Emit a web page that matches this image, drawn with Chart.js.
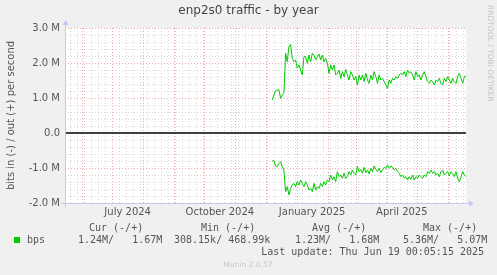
<!DOCTYPE html>
<html><head><meta charset="utf-8">
<script src="https://cdn.jsdelivr.net/npm/chart.js@4.4.1/dist/chart.umd.min.js"></script>
<style>html,body{margin:0;padding:0;background:#f0f0f0;}canvas{display:block;}</style>
</head><body>
<canvas id="c" width="497" height="275"></canvas>
<script>
// ---------- data ----------
const chartTitle = 'enp2s0 traffic - by year';
const yAxisTitle = 'bits in (-) / out (+) per second';
// x axis: days since 2024-05-15 (left edge) .. 2025-06-19 (right edge)
const xMinDay = 0, xMaxDay = 400;
const xLabelNames = ['July 2024', 'October 2024', 'January 2025', 'April 2025'];
const xLabelDays = [62.5, 154.5, 246.5, 336];
const monthStartDays = [17, 47, 78, 109, 139, 170, 200, 231, 262, 290, 321, 351, 382];
const firstMondayDay = 5;
const yTicksM = [-2, -1, 0, 1, 2, 3];
// samples (every 5/3 day starting at day 206.7)
const sampleStartDay = 206.7;
const sampleStepDays = 5 / 3;
const outMbps = [0.943,1.086,1.21,1.219,1.238,0.99,1.086,1.133,2.276,2.038,2.467,2.533,2.133,2.038,2.086,1.848,1.943,1.8,1.657,2.181,2.181,1.99,2.229,2.038,2.276,2.229,2.086,2.181,2.257,2.086,2.229,2.038,2.133,1.99,1.705,1.943,
1.8,1.943,1.657,1.705,1.8,1.562,1.752,1.61,1.819,1.657,1.514,1.752,1.657,1.514,1.61,1.371,1.657,1.514,1.657,1.467,1.705,1.514,1.419,1.657,1.514,1.752,1.61,1.419,1.657,1.514,1.562,1.467,1.371,1.276,1.514,1.419,1.562,1.514,1.61,1.562,1.657,1.705,1.657,1.752,1.61,1.8,1.705,1.752,1.657,1.514,1.752,1.61,1.657,1.514,1.657,1.752,1.61,1.467,1.419,1.514,1.467,1.371,1.514,1.467,1.562,1.419,1.371,1.562,1.467,1.61,1.514,1.419,1.562,1.467,1.419,1.61,1.705,1.562,1.419,1.61,1.629];
const inMbps = [-0.8,-0.79,-0.943,-0.962,-0.867,-0.819,-0.962,-1.057,-1.676,-1.533,-1.771,-1.581,-1.486,-1.438,-1.533,-1.39,-1.486,-1.343,-1.438,-1.533,-1.39,-1.486,-1.629,-1.581,-1.676,-1.438,-1.629,-1.533,-1.581,-1.438,-1.533,-1.39,-1.486,-1.343,-1.39,-1.2,-1.343,-1.248,-1.39,-1.105,-1.248,-1.2,-1.295,-1.152,-1.295,-1.248,-1.105,-1.2,-1.057,-1.152,-1.2,-0.962,-1.105,-1.038,-1.152,-0.981,-1.133,-1.057,-1.171,-1.01,-1.105,-0.943,-1.038,-1.105,-1.01,-1.133,-1.057,-0.981,-1.01,-0.914,-1.01,-0.943,-0.981,-1.057,-1.01,-1.105,-1.152,-1.248,-1.2,-1.295,-1.248,-1.343,-1.248,-1.324,-1.2,-1.343,-1.248,-1.295,-1.2,-1.248,-1.295,-1.2,-1.248,-1.105,-1.152,-1.057,-1.152,-1.105,-1.2,-1.152,-1.248,-1.105,-1.057,-1.2,-1.152,-1.105,-1.229,-1.105,-1.152,-1.248,-1.105,-1.295,-1.39,-1.248,-1.105,-1.2,-1.248];
// legend
const legendHeaders = ['Cur (-/+)', 'Min (-/+)', 'Avg (-/+)', 'Max (-/+)'];
const legendSeriesName = 'bps';
const legendValues = ['1.24M/   1.67M', '308.15k/ 468.99k', '1.23M/   1.68M', '5.36M/   5.07M'];
const lastUpdateText = 'Last update: Thu Jun 19 00:05:15 2025';
const footerText = 'Munin 2.0.57';
const watermarkText = 'RRDTOOL / TOBI OETIKER';

// ---------- build ----------
const toPoints = arr => arr.map((v, i) => ({x: sampleStartDay + i * sampleStepDays, y: v}));
const GREEN = '#00cc00';
const TEXT = '#555555';

const rrdPlugin = {
  id: 'rrd',
  beforeDraw(chart) {
    const {ctx, chartArea: a} = chart;
    ctx.save();
    ctx.fillStyle = '#f0f0f0';
    ctx.fillRect(0, 0, chart.width, chart.height);
    ctx.fillStyle = '#ffffff';
    ctx.fillRect(a.left, a.top, a.right - a.left, a.bottom - a.top);
    ctx.restore();
  },
  beforeDatasetsDraw(chart) {
    const {ctx, chartArea: a, scales: {x, y}} = chart;
    const vline = (px) => { px = Math.round(px) + 0.5; ctx.beginPath(); ctx.moveTo(px, a.top); ctx.lineTo(px, a.bottom); ctx.stroke(); };
    const hline = (py) => { py = Math.round(py) + 0.5; ctx.beginPath(); ctx.moveTo(a.left, py); ctx.lineTo(a.right, py); ctx.stroke(); };
    ctx.save();
    ctx.lineWidth = 1;
    ctx.setLineDash([1, 2]);
    ctx.strokeStyle = '#d8d8d8';
    for (let d = firstMondayDay; d <= xMaxDay; d += 7) vline(x.getPixelForValue(d));
    for (let k = -10; k <= 15; k++) { if (k % 5 !== 0) hline(y.getPixelForValue(k * 0.2)); }
    ctx.strokeStyle = '#f0a8a8';
    monthStartDays.forEach(d => vline(x.getPixelForValue(d)));
    yTicksM.forEach(v => { if (v !== 0) hline(y.getPixelForValue(v)); });
    ctx.restore();
  },
  afterDatasetsDraw(chart) {
    const {ctx, chartArea: a, scales: {x, y}} = chart;
    ctx.save();
    // zero rule
    ctx.strokeStyle = '#000000';
    ctx.lineWidth = 1.5;
    const zy = y.getPixelForValue(0);
    ctx.beginPath(); ctx.moveTo(a.left, zy); ctx.lineTo(a.right, zy); ctx.stroke();
    // axes with arrows
    ctx.strokeStyle = '#c6c6f4';
    ctx.fillStyle = '#c6c6f4';
    ctx.lineWidth = 1;
    const lx = a.left + 0.5, by = a.bottom + 0.5;
    ctx.beginPath(); ctx.moveTo(lx, a.bottom + 4); ctx.lineTo(lx, a.top - 4); ctx.stroke();
    ctx.beginPath(); ctx.moveTo(a.left - 4, by); ctx.lineTo(a.right + 4, by); ctx.stroke();
    ctx.beginPath(); ctx.moveTo(lx - 3, a.top - 3); ctx.lineTo(lx + 3, a.top - 3); ctx.lineTo(lx, a.top - 8); ctx.closePath(); ctx.fill();
    ctx.beginPath(); ctx.moveTo(a.right + 3, by - 3); ctx.lineTo(a.right + 3, by + 3); ctx.lineTo(a.right + 8, by); ctx.closePath(); ctx.fill();
    ctx.restore();
  },
  afterDraw(chart) {
    const {ctx} = chart;
    ctx.save();
    ctx.textBaseline = 'middle';
    // title
    ctx.fillStyle = '#444444';
    ctx.font = '12px "DejaVu Sans"';
    ctx.textAlign = 'center';
    ctx.fillText(chartTitle, 248.5, 11);
    // watermark
    ctx.save();
    ctx.translate(490, 5);
    ctx.rotate(Math.PI / 2);
    ctx.fillStyle = '#c4c4c4';
    ctx.font = '7.5px "DejaVu Sans"';
    ctx.textAlign = 'left';
    ctx.fillText(watermarkText, 0, 0);
    ctx.restore();
    // legend
    ctx.font = '10px "DejaVu Sans Mono"';
    ctx.fillStyle = TEXT;
    ctx.textAlign = 'left';
    const hx = [89, 201, 312, 423];
    legendHeaders.forEach((t, i) => ctx.fillText(t, hx[i], 228.5));
    ctx.fillStyle = GREEN;
    ctx.fillRect(14, 237, 6, 6);
    ctx.fillStyle = TEXT;
    ctx.fillText(legendSeriesName, 27, 240);
    const vx = [78, 174, 295, 403];
    legendValues.forEach((t, i) => ctx.fillText(t, vx[i], 240));
    ctx.textAlign = 'right';
    ctx.fillText(lastUpdateText, 484, 252);
    ctx.textAlign = 'center';
    ctx.fillStyle = '#c8c8c8';
    ctx.font = '7.5px "DejaVu Sans"';
    ctx.fillText(footerText, 248, 265);
    ctx.restore();
  }
};

new Chart(document.getElementById('c'), {
  type: 'line',
  data: {
    datasets: [
      {label: 'out', data: toPoints(outMbps), borderColor: GREEN, borderWidth: 1, pointRadius: 0, tension: 0, fill: false},
      {label: 'in', data: toPoints(inMbps), borderColor: GREEN, borderWidth: 1, pointRadius: 0, tension: 0, fill: false}
    ]
  },
  options: {
    responsive: false,
    animation: false,
    devicePixelRatio: 1,
    layout: {padding: {top: 28, right: 31, bottom: 0, left: 0}},
    plugins: {legend: {display: false}, tooltip: {enabled: false}, title: {display: false}},
    scales: {
      x: {
        type: 'linear', min: xMinDay, max: xMaxDay,
        afterFit: s => { s.height = 72; },
        afterBuildTicks: s => { s.ticks = xLabelDays.map(v => ({value: v})); },
        grid: {display: false, drawTicks: false},
        border: {display: false},
        ticks: {
          autoSkip: false, maxRotation: 0, padding: 3,
          color: TEXT, font: {family: 'DejaVu Sans', size: 10},
          callback: v => xLabelNames[xLabelDays.indexOf(v)]
        }
      },
      y: {
        type: 'linear', min: -2, max: 3,
        afterFit: s => { s.width = 65; },
        afterBuildTicks: s => { s.ticks = yTicksM.map(v => ({value: v})); },
        grid: {display: false, drawTicks: false},
        border: {display: false},
        ticks: {
          padding: 5, color: TEXT, font: {family: 'DejaVu Sans', size: 10},
          callback: v => v === 0 ? '0.0' : v.toFixed(1) + ' M'
        },
        title: {display: true, text: yAxisTitle, color: TEXT, font: {family: 'DejaVu Sans', size: 10}, padding: {top: 5, bottom: 0}}
      }
    }
  },
  plugins: [rrdPlugin]
});
</script>
</body></html>
